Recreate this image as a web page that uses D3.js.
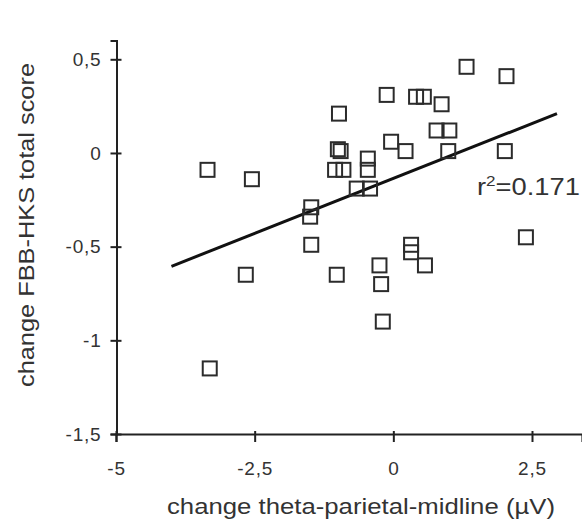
<!DOCTYPE html>
<html><head><meta charset="utf-8">
<script src="https://cdn.jsdelivr.net/npm/d3@7"></script>
<style>body{margin:0;background:#fff;} text{font-family:"Liberation Sans",Arial,sans-serif;}</style>
</head><body>
<svg id="c" width="582" height="526"></svg>
<script>
// data
const xVals = [-3.35,-2.55,-3.31,-2.66,-1.48,-1.50,-1.48,-1.02,-0.98,-1.00,-0.95,-1.05,-0.90,-0.66,-0.42,-0.46,-0.46,-0.25,-0.22,-0.19,-0.12,-0.04,0.22,0.32,0.32,0.57,0.41,0.55,0.87,0.78,1.01,0.99,1.32,2.04,2.01,2.39];
const yVals = [-0.09,-0.14,-1.15,-0.65,-0.29,-0.34,-0.49,-0.65,0.21,0.02,0.01,-0.09,-0.09,-0.19,-0.19,-0.03,-0.09,-0.60,-0.70,-0.90,0.31,0.06,0.01,-0.49,-0.53,-0.60,0.30,0.30,0.26,0.12,0.12,0.01,0.46,0.41,0.01,-0.45];
const fitX = [-4, 2.95];
const fitY = [-0.605, 0.21];
const xTicks = [-5,-2.5,0,2.5];
const xTickLabels = ["-5","-2,5","0","2,5"];
const yTicks = [0.5,0,-0.5,-1,-1.5];
const yTickLabels = ["0,5","0","-0,5","-1","-1,5"];
const r2Label = "0.171";
const xTitle = "change theta-parietal-midline (µV)";
const yTitle = "change FBB-HKS total score";

const svg = d3.select("#c");
const x = d3.scaleLinear().domain([-5, 2.5]).range([116, 532]);
const y = d3.scaleLinear().domain([-1.5, 0.5]).range([434, 59.3]);
const xAxisY = 434, yAxisX = 116.5;

// axes
const xAxis = d3.axisBottom(x.copy().domain([-5, 3.4]).range([116, x(3.4)]))
  .tickValues(xTicks).tickFormat((d,i)=>xTickLabels[i]).tickSizeOuter(0).tickSize(8).tickPadding(10);
const gx = svg.append("g").attr("transform",`translate(0,${xAxisY})`).call(xAxis);
gx.select(".domain").attr("stroke","#222").attr("stroke-width",2);
gx.selectAll(".tick line").attr("stroke","#222").attr("stroke-width",2).attr("y1",-3).attr("y2",8);
gx.selectAll(".tick text").attr("font-size",19).attr("letter-spacing",0.8).attr("y",28)
  .attr("fill","#333").attr("font-family","Liberation Sans, Arial, sans-serif");

const yAxis = d3.axisLeft(y.copy().domain([-1.5, 0.6]).range([434, y(0.6)]))
  .tickValues(yTicks).tickFormat((d,i)=>yTickLabels[i]).tickSizeOuter(0).tickSize(6).tickPadding(10);
const gy = svg.append("g").attr("transform",`translate(${yAxisX},0)`).call(yAxis);
gy.select(".domain").attr("stroke","#222").attr("stroke-width",2);
gy.selectAll(".tick line").attr("stroke","#222").attr("stroke-width",2).attr("x1",5).attr("x2",-6);
gy.selectAll(".tick text").attr("font-size",19).attr("letter-spacing",0.8).attr("x",-15)
  .attr("fill","#333").attr("font-family","Liberation Sans, Arial, sans-serif");

// regression line
svg.append("line")
  .attr("x1",x(fitX[0])).attr("y1",y(fitY[0]))
  .attr("x2",x(fitX[1])).attr("y2",y(fitY[1]))
  .attr("stroke","#111").attr("stroke-width",3);

// points
const s = 14;
svg.append("g").selectAll("rect").data(xVals.map((v,i)=>[v,yVals[i]])).join("rect")
  .attr("x",d=>x(d[0])-s/2).attr("y",d=>y(d[1])-s/2)
  .attr("width",s).attr("height",s)
  .attr("fill","none").attr("stroke","#2b2b2b").attr("stroke-width",2);

// r2 label
const t = svg.append("text").attr("x",477).attr("y",195).attr("font-size",24).attr("fill","#333")
  .attr("textLength",103).attr("lengthAdjust","spacingAndGlyphs");
t.append("tspan").text("r");
t.append("tspan").attr("dy",-9).attr("font-size",15).text("2");
t.append("tspan").attr("dy",9).text("=" + r2Label);

// titles
svg.append("text").attr("x",361).attr("y",514).attr("text-anchor","middle")
  .attr("font-size",22).attr("fill","#333")
  .attr("textLength",388).attr("lengthAdjust","spacingAndGlyphs").text(xTitle);
svg.append("text").attr("transform","translate(34,225) rotate(-90)").attr("text-anchor","middle")
  .attr("font-size",22).attr("fill","#333")
  .attr("textLength",324).attr("lengthAdjust","spacingAndGlyphs").text(yTitle);
</script>
</body></html>
